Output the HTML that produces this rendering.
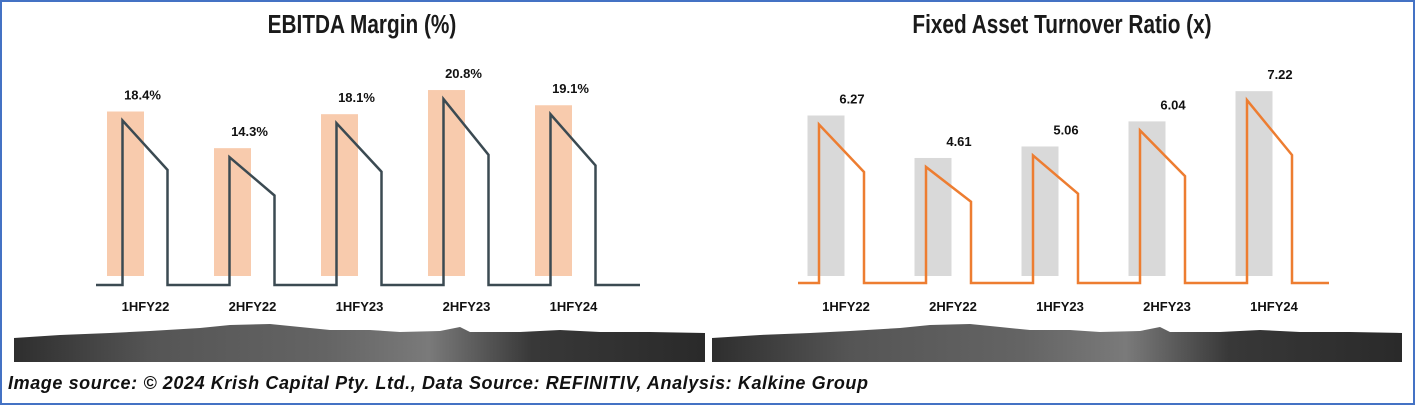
<!DOCTYPE html>
<html><head><meta charset="utf-8"><style>
html,body{margin:0;padding:0;background:#fff;}
svg{display:block;font-family:"Liberation Sans",sans-serif;}
</style></head><body>
<svg id="s" width="1415" height="405" viewBox="0 0 1415 405">
<defs>
<linearGradient id="rock" x1="0" x2="1" y1="0" y2="0">
<stop offset="0" stop-color="#2e2e2e"/><stop offset="0.2" stop-color="#555"/><stop offset="0.45" stop-color="#646464"/><stop offset="0.6" stop-color="#7a7a7a"/><stop offset="0.75" stop-color="#383838"/><stop offset="1" stop-color="#2a2a2a"/>
</linearGradient>
</defs>
<rect x="1" y="1" width="1413" height="403" fill="#fff" stroke="#4472c4" stroke-width="2"/>
<path d="M14 338 L60 335 L110 333 L150 331 L200 328 L230 325 L270 324 L300 327 L330 330 L370 330 L400 332 L440 331 L460 327 L470 332 L520 332 L560 330 L600 332 L650 332 L705 333 L705 362 L14 362 Z" fill="url(#rock)"/>
<path d="M712 338 L760 335 L810 333 L850 331 L900 328 L930 325 L970 324 L1000 327 L1030 330 L1070 330 L1100 332 L1140 331 L1160 327 L1170 332 L1220 332 L1260 330 L1300 332 L1350 332 L1402 333 L1402 362 L712 362 Z" fill="url(#rock)"/>
<text x="362" y="33" text-anchor="middle" font-size="26" font-weight="bold" fill="#1a1a1a" transform="translate(362 0) scale(0.8 1) translate(-362 0)">EBITDA Margin (%)</text>
<text x="1062" y="33" text-anchor="middle" font-size="26" font-weight="bold" fill="#1a1a1a" transform="translate(1062 0) scale(0.8 1) translate(-1062 0)">Fixed Asset Turnover Ratio (x)</text>
<g id="g1"></g><g id="g2"></g>
<text x="8" y="389" font-size="18" font-style="italic" font-weight="bold" fill="#111" textLength="860" lengthAdjust="spacing">Image source: © 2024 Krish Capital Pty. Ltd., Data Source: REFINITIV, Analysis: Kalkine Group</text>
</svg>
<script>
const categories = ["1HFY22","2HFY22","1HFY23","2HFY23","1HFY24"];
const ebitdaValues = [18.4, 14.3, 18.1, 20.8, 19.1];
const ebitdaLabels = ["18.4%","14.3%","18.1%","20.8%","19.1%"];
const fatValues = [6.27, 4.61, 5.06, 6.04, 7.22];
const fatLabels = ["6.27","4.61","5.06","6.04","7.22"];
const NS="http://www.w3.org/2000/svg";
function mk(tag,attrs,parent){const e=document.createElementNS(NS,tag);for(const k in attrs)e.setAttribute(k,attrs[k]);parent.appendChild(e);return e;}
function draw(gid,vals,labels,cfg){
  const g=document.getElementById(gid);
  const base=276, lineBase=cfg.lineBase;
  const y=v=>base-v*cfg.scale;
  const xc=i=>cfg.x0+i*cfg.step;
  let d="M"+cfg.lineStart+" "+lineBase;
  vals.forEach((v,i)=>{
    const r=mk("rect",{x:xc(i)-18.5,y:y(v),width:37,height:base-y(v),fill:cfg.barColor},g);
    
    
    const px=xc(i)+cfg.peakOff, py=y(v)+9, ex=px+45, ey=py+0.3*(lineBase-py);
    d+=" L"+px+" "+lineBase+" L"+px+" "+py+" L"+ex+" "+ey+" L"+ex+" "+lineBase;
    const t=mk("text",{x:xc(i)+cfg.labOff,y:y(v)-12,"text-anchor":"middle","font-size":"13","font-weight":"bold",fill:"#111"},g);
    t.textContent=labels[i];
    
    
    const c=mk("text",{x:xc(i)+20,y:311,"text-anchor":"middle","font-size":"13","font-weight":"bold",fill:"#111"},g);
    c.textContent=categories[i];
    
    
  });
  d+=" L"+cfg.lineEnd+" "+lineBase;
  const p=mk("path",{d:d,fill:"none",stroke:cfg.lineColor,"stroke-width":"2.5","stroke-linejoin":"miter"},g);
  
  
}
draw("g1",ebitdaValues,ebitdaLabels,{x0:125.5,step:107,scale:8.94,barColor:"#f8cbad",lineColor:"#3b4a52",lineBase:285,peakOff:-3,labOff:17,lineStart:96,lineEnd:640,name:"ebitda"});
draw("g2",fatValues,fatLabels,{x0:826,step:107,scale:25.6,barColor:"#d9d9d9",lineColor:"#ed7d31",lineBase:283,peakOff:-7,labOff:26,lineStart:798,lineEnd:1329,name:"fat"});
</script>
</body></html>
